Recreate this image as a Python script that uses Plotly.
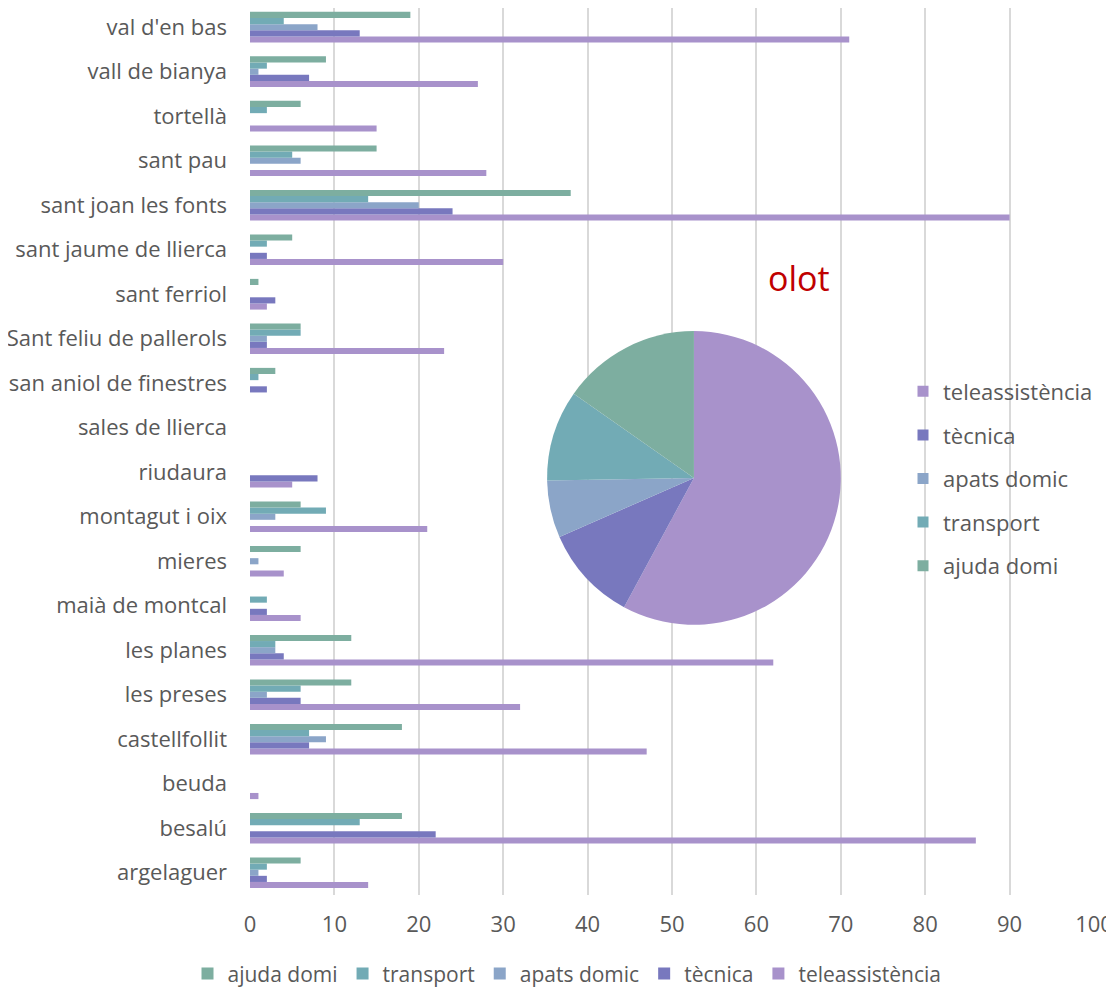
import plotly.graph_objects as go

# municipalities, bottom to top as drawn
municipis = [
    "argelaguer", "besalú", "beuda", "castellfollit", "les preses",
    "les planes", "maià de montcal", "mieres", "montagut i oix", "riudaura",
    "sales de llierca", "san aniol de finestres", "Sant feliu de pallerols",
    "sant ferriol", "sant jaume de llierca", "sant joan les fonts",
    "sant pau", "tortellà", "vall de bianya", "val d'en bas",
]

ajuda_domi = [6, 18, 0, 18, 12, 12, 0, 6, 6, 0, 0, 3, 6, 1, 5, 38, 15, 6, 9, 19]
transport = [2, 13, 0, 7, 6, 3, 2, 0, 9, 0, 0, 1, 6, 0, 2, 14, 5, 2, 2, 4]
apats_domic = [1, 0, 0, 9, 2, 3, 0, 1, 3, 0, 0, 0, 2, 0, 0, 20, 6, 0, 1, 8]
tecnica = [2, 22, 0, 7, 6, 4, 2, 0, 0, 8, 0, 2, 2, 3, 2, 24, 0, 0, 7, 13]
teleassistencia = [14, 86, 1, 47, 32, 62, 6, 4, 21, 5, 0, 0, 23, 2, 30, 90, 28, 15, 27, 71]

# olot pie
olot_labels = ["teleassistència", "tècnica", "apats domic", "transport", "ajuda domi"]
olot_values = [110, 20, 12, 19, 29]

colors = {
    "ajuda domi": "#7DAEA0",
    "transport": "#72ABB5",
    "apats domic": "#8BA5C8",
    "tècnica": "#7878BE",
    "teleassistència": "#A892CB",
}

FONT = "Open Sans"
GREY = "#595959"

fig = go.Figure()

# first trace sits at the bottom of each group, so add them in reverse
series = [
    ("teleassistència", teleassistencia),
    ("tècnica", tecnica),
    ("apats domic", apats_domic),
    ("transport", transport),
    ("ajuda domi", ajuda_domi),
]
for name, vals in series:
    fig.add_trace(go.Bar(
        name=name, y=municipis, x=vals, orientation="h",
        marker=dict(color=colors[name], line=dict(width=0)),
        legend="legend",
    ))

fig.add_trace(go.Pie(
    labels=olot_labels, values=olot_values, sort=False, direction="clockwise",
    rotation=0, textinfo="none", showlegend=False,
    marker=dict(colors=[colors[l] for l in olot_labels], line=dict(width=0)),
    domain=dict(x=[0.352, 0.700], y=[0.3044, 0.6359]),
))

# pie legend entries (spaced like the original)
for i, l in enumerate(olot_labels):
    fig.add_trace(go.Scatter(
        x=[None], y=[None], mode="markers", name=l,
        marker=dict(symbol="square", size=11, color=colors[l]),
        legend="legend2", legendgroup="p%d" % i,
    ))

fig.update_layout(
    width=1114, height=988,
    margin=dict(l=242, r=28, t=0, b=101),
    paper_bgcolor="white", plot_bgcolor="white",
    font=dict(family=FONT, size=22, color=GREY),
    barmode="group", bargap=0.31, bargroupgap=0,
    xaxis=dict(
        range=[0, 100], dtick=10, showgrid=True, gridcolor="#D9D9D9",
        gridwidth=2, zeroline=False, showline=False, ticks="",
        automargin=False, ticklabelstandoff=14,
        tickfont=dict(size=22, color=GREY),
    ),
    yaxis=dict(
        type="category", categoryorder="array", categoryarray=municipis,
        range=[-0.5, 19.432],
        showgrid=False, zeroline=False, showline=False, ticks="",
        automargin=False, ticklabelstandoff=22,
        tickfont=dict(size=22, color=GREY),
    ),
    legend=dict(
        orientation="h", traceorder="reversed",
        xref="paper", yref="paper", x=0.3756, y=-0.089,
        xanchor="center", yanchor="middle",
        font=dict(size=21, color=GREY), bgcolor="rgba(0,0,0,0)",
    ),
    legend2=dict(
        orientation="v", traceorder="grouped", tracegroupgap=12,
        xref="paper", yref="paper", x=0.7737, y=0.5913,
        xanchor="left", yanchor="top",
        font=dict(size=22, color=GREY), bgcolor="rgba(0,0,0,0)",
    ),
    annotations=[dict(
        text="olot", xref="paper", yref="paper", x=0.6505, y=0.6956,
        xanchor="center", yanchor="middle",
        showarrow=False, font=dict(size=34, color="#C00000", family=FONT),
    )],
    shapes=[dict(
        type="line", xref="paper", yref="paper",
        x0=1.0213, x1=1.0213, y0=1.009, y1=0.9188,
        line=dict(color="#7B6A9E", width=3),
    )],
)

fig.write_html("out.html")
